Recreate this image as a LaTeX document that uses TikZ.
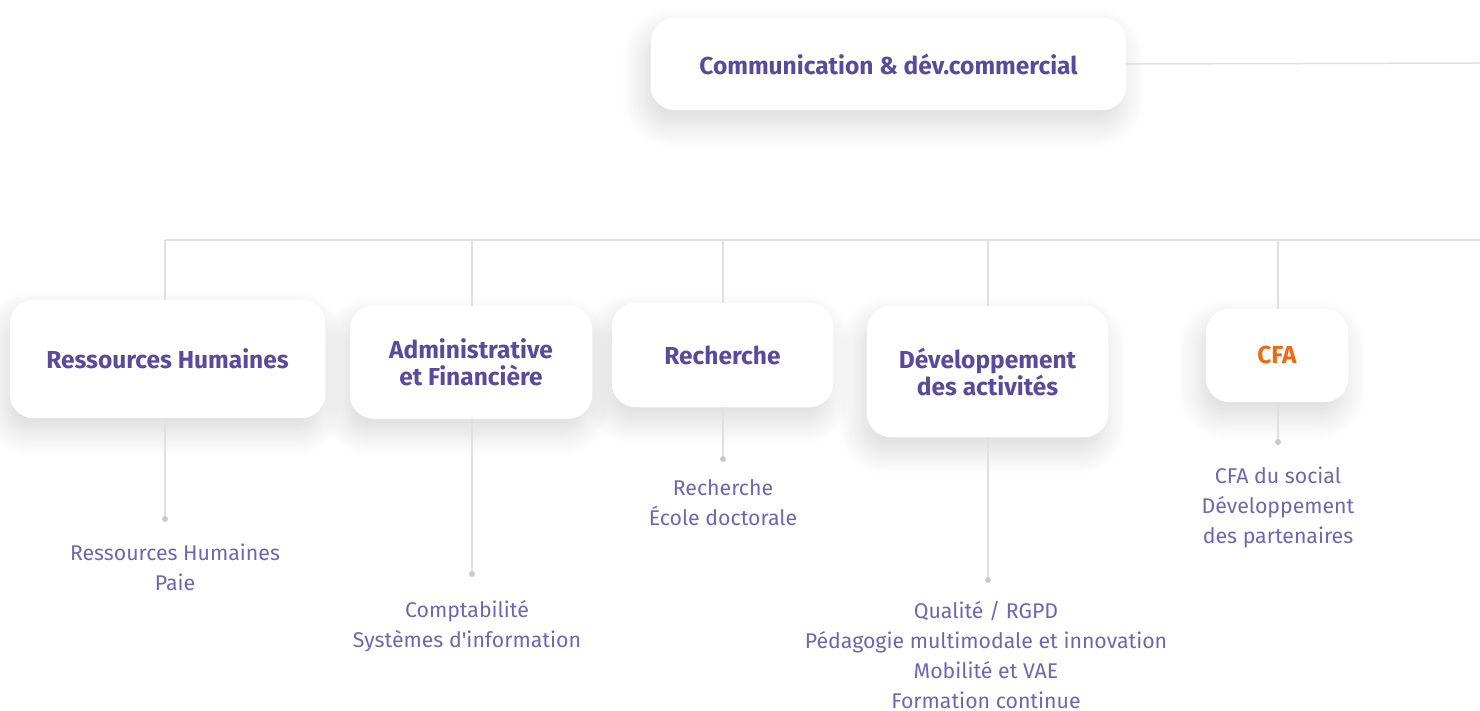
\documentclass[tikz,border=0pt]{standalone}
\usepackage{fontspec}
\setmainfont{Fira Sans}
\usetikzlibrary{shadows.blur,backgrounds}
\definecolor{violet}{HTML}{5A4A9C}
\definecolor{lilas}{HTML}{6E66B0}
\definecolor{orangecfa}{HTML}{EE6A10}
\definecolor{trait}{HTML}{E0E0E0}
\begin{document}
\begin{tikzpicture}[x=1pt,y=-1pt,
		box/.style={fill=white,rounded corners=24pt,inner sep=0pt,align=center,
			font=\bfseries\fontsize{24.5}{27}\selectfont,text=violet},
		ombre/.style={fill=white,rounded corners=24pt,
			blur shadow={shadow xshift=-5pt,shadow yshift=-14pt,shadow blur radius=24pt,shadow blur steps=12,shadow opacity=15}},
		item/.style={align=center,font=\fontsize{21.3}{30}\selectfont,text=lilas},
		link/.style={draw=trait,line width=1.5pt},
		dot/.style={circle,fill=trait!90!black,inner sep=0pt,minimum size=6pt}
	]
	\useasboundingbox (0,0) rectangle (1480,711);
	% boites
	\node[box,minimum width=475pt,minimum height=92pt] (com) at (888.5,64) {Communication \& dév.commercial};
	\node[box,minimum width=315pt,minimum height=118pt] (rh) at (167.5,359) {Ressources Humaines};
	\node[box,minimum width=242pt,minimum height=113pt] (adm) at (471,362) {Administrative\\et Financière};
	\node[box,minimum width=221pt,minimum height=104pt] (rech) at (722.5,355) {Recherche};
	\node[box,minimum width=241pt,minimum height=131pt] (dev) at (987.5,371.5) {Développement\\des activités};
	\node[box,minimum width=142pt,minimum height=93pt,text=orangecfa] (cfa) at (1277,355.5) {CFA};
	% points
	\node[dot] (rhd) at (165,519) {};
	\node[dot] (admd) at (472,574) {};
	\node[dot] (rechd) at (723,459) {};
	\node[dot] (devd) at (988,580) {};
	\node[dot] (cfad) at (1278,442) {};
	% services
	\node[item] (rhs) at (175,567) {Ressources Humaines\\Paie};
	\node[item] (adms) at (467,626.5) {Comptabilité\\Systèmes d\textquotesingle information};
	\node[item] (rechs) at (723,503) {Recherche\\École doctorale};
	\node[item] (devs) at (986,655) {Qualité / RGPD\\Pédagogie multimodale et innovation\\Mobilité et VAE\\Formation continue};
	\node[item] (cfas) at (1278,507) {CFA du social\\Développement\\des partenaires};
	% traits
	\coordinate (bus) at (165,240);
	\coordinate (busend) at (1480,240);
	\coordinate (comend) at (1480,63);
	\begin{scope}[on background layer]
		\foreach \n in {com,rh,adm,rech,dev,cfa}{
			\path[ombre] (\n.south west) rectangle (\n.north east);
		}
		\draw[link] (com.east) -- (comend);
		\draw[link] (bus) -- (busend);
		\foreach \n in {rh,adm,rech,dev,cfa}{
			\draw[link] (\n d |- bus) -- (\n d);
		}
	\end{scope}
\end{tikzpicture}
\end{document}
